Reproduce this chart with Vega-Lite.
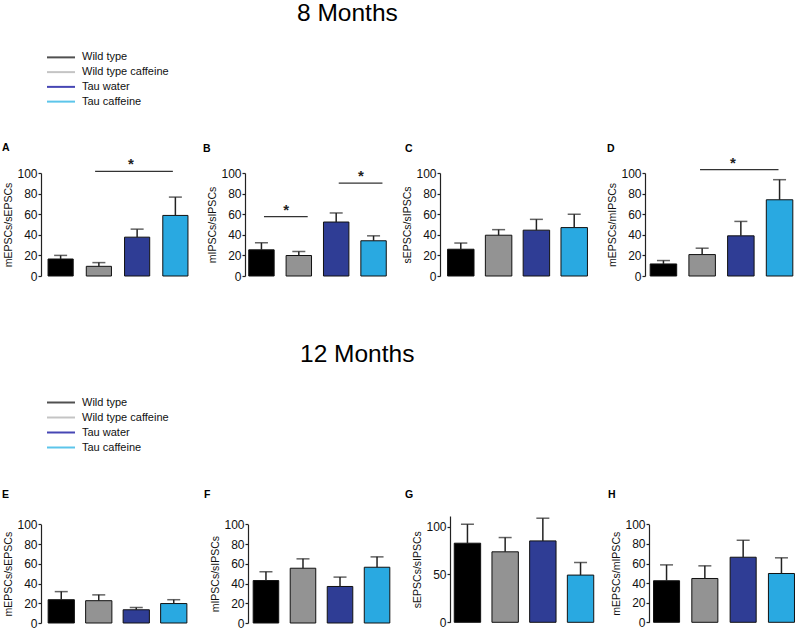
{
  "$schema": "https://vega.github.io/schema/vega-lite/v6.json",
  "padding": {"left": 2, "top": 0, "right": 0, "bottom": 0},
  "background": "white",
  "config": {
    "font": "Liberation Sans",
    "view": {"stroke": null},
    "axisY": {"domainColor": "#222", "domainWidth": 1.2, "tickColor": "#222", "tickWidth": 1.2, "tickSize": 3, "labelPadding": 1, "labelFontSize": 12, "labelColor": "#111", "titleFontSize": 10.5, "titleFontWeight": "normal", "titleColor": "#111", "titlePadding": 3, "grid": false, "labelFlush": false, "labelOverlap": false},
    "title": {"anchor": "start", "frame": "group", "fontSize": 10.5, "fontWeight": "bold", "color": "#000"}
  },
  "datasets": {
    "groups": [{"group": "Wild type"}, {"group": "Wild type caffeine"}, {"group": "Tau water"}, {"group": "Tau caffeine"}],
    "bars": [
      {"panel": "A", "group": "Wild type", "mean": 16.5, "upper": 20},
      {"panel": "A", "group": "Wild type caffeine", "mean": 9.4, "upper": 13},
      {"panel": "A", "group": "Tau water", "mean": 37.7, "upper": 45.5},
      {"panel": "A", "group": "Tau caffeine", "mean": 58.8, "upper": 76.6},
      {"panel": "B", "group": "Wild type", "mean": 25.4, "upper": 32.2},
      {"panel": "B", "group": "Wild type caffeine", "mean": 19.9, "upper": 23.8},
      {"panel": "B", "group": "Tau water", "mean": 52.4, "upper": 61.2},
      {"panel": "B", "group": "Tau caffeine", "mean": 34.2, "upper": 39},
      {"panel": "C", "group": "Wild type", "mean": 26, "upper": 32},
      {"panel": "C", "group": "Wild type caffeine", "mean": 39.6, "upper": 45},
      {"panel": "C", "group": "Tau water", "mean": 44.5, "upper": 55},
      {"panel": "C", "group": "Tau caffeine", "mean": 47, "upper": 60},
      {"panel": "D", "group": "Wild type", "mean": 11.7, "upper": 15},
      {"panel": "D", "group": "Wild type caffeine", "mean": 20.8, "upper": 27},
      {"panel": "D", "group": "Tau water", "mean": 39, "upper": 53},
      {"panel": "D", "group": "Tau caffeine", "mean": 74, "upper": 93.5},
      {"panel": "E", "group": "Wild type", "mean": 23.6, "upper": 31.8},
      {"panel": "E", "group": "Wild type caffeine", "mean": 22.6, "upper": 28.5},
      {"panel": "E", "group": "Tau water", "mean": 13.4, "upper": 15.7},
      {"panel": "E", "group": "Tau caffeine", "mean": 19.7, "upper": 23.6},
      {"panel": "F", "group": "Wild type", "mean": 43, "upper": 52},
      {"panel": "F", "group": "Wild type caffeine", "mean": 55.5, "upper": 65},
      {"panel": "F", "group": "Tau water", "mean": 37, "upper": 46.5},
      {"panel": "F", "group": "Tau caffeine", "mean": 56.5, "upper": 67},
      {"panel": "G", "group": "Wild type", "mean": 82.6, "upper": 102.4},
      {"panel": "G", "group": "Wild type caffeine", "mean": 73.6, "upper": 88.5},
      {"panel": "G", "group": "Tau water", "mean": 85, "upper": 108.7},
      {"panel": "G", "group": "Tau caffeine", "mean": 49.3, "upper": 62.5},
      {"panel": "H", "group": "Wild type", "mean": 42.4, "upper": 58.6},
      {"panel": "H", "group": "Wild type caffeine", "mean": 44.7, "upper": 57.6},
      {"panel": "H", "group": "Tau water", "mean": 66.4, "upper": 83.7},
      {"panel": "H", "group": "Tau caffeine", "mean": 49.8, "upper": 65.8}
    ],
    "sig": [
      {"panel": "A", "from": "Wild type caffeine", "to": "Tau caffeine", "mid": "Tau water", "y": 101.6, "label": "*"},
      {"panel": "B", "from": "Wild type", "to": "Wild type caffeine", "mid": "Wild type caffeine", "y": 57.7, "label": "*"},
      {"panel": "B", "from": "Tau water", "to": "Tau caffeine", "mid": "Tau caffeine", "y": 90.2, "label": "*"},
      {"panel": "D", "from": "Wild type caffeine", "to": "Tau caffeine", "mid": "Tau water", "y": 103.2, "label": "*"}
    ]
  },
  "spacing": 59,
  "vconcat": [
    {
      "title": {"text": "8 Months", "anchor": "start", "frame": "bounds", "dx": 295, "offset": 24, "fontSize": 24.5, "fontWeight": "normal"},
      "spacing": 34,
      "vconcat": [
        {
          "width": 150, "height": 59,
          "data": {"name": "groups"},
          "layer": [
            {"mark": {"type": "rule", "strokeWidth": 2},
             "encoding": {
               "x": {"datum": 0, "type": "quantitative", "scale": {"domain": [-0.214, 5.143]}, "axis": null},
               "x2": {"datum": 1},
               "y": {"field": "group", "type": "nominal", "scale": {"domain": ["Wild type", "Wild type caffeine", "Tau water", "Tau caffeine"]}, "axis": null},
               "stroke": {"field": "group", "type": "nominal", "scale": {"domain": ["Wild type", "Wild type caffeine", "Tau water", "Tau caffeine"], "range": ["#505050", "#c4c4c4", "#4646b4", "#5cc5ea"]}, "legend": null}}},
            {"mark": {"type": "text", "align": "left", "baseline": "middle", "fontSize": 11, "color": "#111"},
             "encoding": {
               "x": {"datum": 1.25, "type": "quantitative", "scale": {"domain": [-0.214, 5.143]}, "axis": null},
               "y": {"field": "group", "type": "nominal", "scale": {"domain": ["Wild type", "Wild type caffeine", "Tau water", "Tau caffeine"]}, "axis": null},
               "text": {"field": "group"}}}
          ]
        },
        {
          "bounds": "flush",
          "spacing": 50,
          "hconcat": [
            {
              "width": 154, "height": 103,
              "title": {"text": "A", "dx": -39, "offset": 3.5},
              "layer": [
                {"data": {"name": "bars"}, "transform": [{"filter": "datum.panel === 'A'"}],
                 "layer": [
                   {"mark": {"type": "bar", "stroke": "#111", "strokeWidth": 1},
                    "encoding": {
                      "x": {"field": "group", "type": "nominal", "scale": {"type": "band", "domain": ["Wild type", "Wild type caffeine", "Tau water", "Tau caffeine"], "paddingInner": 0.342, "paddingOuter": 0.184}, "axis": null},
                      "y": {"field": "mean", "type": "quantitative", "scale": {"domain": [0, 100], "nice": false}, "axis": {"title": "mEPSCs/sEPSCs", "values": [0, 20, 40, 60, 80, 100]}},
                      "fill": {"field": "group", "type": "nominal", "scale": {"domain": ["Wild type", "Wild type caffeine", "Tau water", "Tau caffeine"], "range": ["#000000", "#939393", "#2f3d95", "#29a9e1"]}, "legend": null}}},
                   {"mark": {"type": "rule", "color": "#222", "strokeWidth": 1.5},
                    "encoding": {
                      "x": {"field": "group", "type": "nominal", "scale": {"type": "band", "domain": ["Wild type", "Wild type caffeine", "Tau water", "Tau caffeine"], "paddingInner": 0.342, "paddingOuter": 0.184}, "axis": null},
                      "y": {"field": "mean", "type": "quantitative", "scale": {"domain": [0, 100], "nice": false}, "axis": {"title": "mEPSCs/sEPSCs", "values": [0, 20, 40, 60, 80, 100]}},
                      "y2": {"field": "upper"}}},
                   {"mark": {"type": "tick", "color": "#222", "thickness": 1.5, "size": 13},
                    "encoding": {
                      "x": {"field": "group", "type": "nominal", "scale": {"type": "band", "domain": ["Wild type", "Wild type caffeine", "Tau water", "Tau caffeine"], "paddingInner": 0.342, "paddingOuter": 0.184}, "axis": null},
                      "y": {"field": "upper", "type": "quantitative", "scale": {"domain": [0, 100], "nice": false}, "axis": {"title": "mEPSCs/sEPSCs", "values": [0, 20, 40, 60, 80, 100]}}}}
                 ]},
                {"data": {"name": "sig"}, "transform": [{"filter": "datum.panel === 'A'"}],
                 "layer": [
                   {"mark": {"type": "rule", "color": "#333", "strokeWidth": 1.3},
                    "encoding": {
                      "x": {"field": "from", "type": "nominal", "bandPosition": 0.35, "scale": {"type": "band", "domain": ["Wild type", "Wild type caffeine", "Tau water", "Tau caffeine"], "paddingInner": 0.342, "paddingOuter": 0.184}, "axis": null},
                      "x2": {"field": "to", "bandPosition": 0.4},
                      "y": {"field": "y", "type": "quantitative", "scale": {"domain": [0, 100], "nice": false}, "axis": {"title": "mEPSCs/sEPSCs", "values": [0, 20, 40, 60, 80, 100]}}}},
                   {"mark": {"type": "text", "fontSize": 15, "fontWeight": "bold", "baseline": "alphabetic", "align": "center", "color": "#222", "dy": -2},
                    "encoding": {
                      "x": {"field": "mid", "type": "nominal", "bandPosition": 0.25, "scale": {"type": "band", "domain": ["Wild type", "Wild type caffeine", "Tau water", "Tau caffeine"], "paddingInner": 0.342, "paddingOuter": 0.184}, "axis": null},
                      "y": {"field": "y", "type": "quantitative", "scale": {"domain": [0, 100], "nice": false}, "axis": {"title": "mEPSCs/sEPSCs", "values": [0, 20, 40, 60, 80, 100]}},
                      "text": {"field": "label"}}}
                 ]}
              ]
            },
            {
              "width": 145, "height": 103,
              "title": {"text": "B", "dx": -42, "offset": 13},
              "layer": [
                {"data": {"name": "bars"}, "transform": [{"filter": "datum.panel === 'B'"}],
                 "layer": [
                   {"mark": {"type": "bar", "stroke": "#111", "strokeWidth": 1},
                    "encoding": {
                      "x": {"field": "group", "type": "nominal", "scale": {"type": "band", "domain": ["Wild type", "Wild type caffeine", "Tau water", "Tau caffeine"], "paddingInner": 0.32, "paddingOuter": 0.1}, "axis": null},
                      "y": {"field": "mean", "type": "quantitative", "scale": {"domain": [0, 100], "nice": false}, "axis": {"title": "mIPSCs/sIPSCs", "values": [0, 20, 40, 60, 80, 100]}},
                      "fill": {"field": "group", "type": "nominal", "scale": {"domain": ["Wild type", "Wild type caffeine", "Tau water", "Tau caffeine"], "range": ["#000000", "#939393", "#2f3d95", "#29a9e1"]}, "legend": null}}},
                   {"mark": {"type": "rule", "color": "#222", "strokeWidth": 1.5},
                    "encoding": {
                      "x": {"field": "group", "type": "nominal", "scale": {"type": "band", "domain": ["Wild type", "Wild type caffeine", "Tau water", "Tau caffeine"], "paddingInner": 0.32, "paddingOuter": 0.1}, "axis": null},
                      "y": {"field": "mean", "type": "quantitative", "scale": {"domain": [0, 100], "nice": false}, "axis": {"title": "mIPSCs/sIPSCs", "values": [0, 20, 40, 60, 80, 100]}},
                      "y2": {"field": "upper"}}},
                   {"mark": {"type": "tick", "color": "#222", "thickness": 1.5, "size": 13},
                    "encoding": {
                      "x": {"field": "group", "type": "nominal", "scale": {"type": "band", "domain": ["Wild type", "Wild type caffeine", "Tau water", "Tau caffeine"], "paddingInner": 0.32, "paddingOuter": 0.1}, "axis": null},
                      "y": {"field": "upper", "type": "quantitative", "scale": {"domain": [0, 100], "nice": false}, "axis": {"title": "mIPSCs/sIPSCs", "values": [0, 20, 40, 60, 80, 100]}}}}
                 ]},
                {"data": {"name": "sig"}, "transform": [{"filter": "datum.panel === 'B'"}],
                 "layer": [
                   {"mark": {"type": "rule", "color": "#333", "strokeWidth": 1.3},
                    "encoding": {
                      "x": {"field": "from", "type": "nominal", "bandPosition": 0.6, "scale": {"type": "band", "domain": ["Wild type", "Wild type caffeine", "Tau water", "Tau caffeine"], "paddingInner": 0.32, "paddingOuter": 0.1}, "axis": null},
                      "x2": {"field": "to", "bandPosition": 0.85},
                      "y": {"field": "y", "type": "quantitative", "scale": {"domain": [0, 100], "nice": false}, "axis": {"title": "mIPSCs/sIPSCs", "values": [0, 20, 40, 60, 80, 100]}}}},
                   {"mark": {"type": "text", "fontSize": 15, "fontWeight": "bold", "baseline": "alphabetic", "align": "center", "color": "#222", "dy": -2},
                    "encoding": {
                      "x": {"field": "mid", "type": "nominal", "bandPosition": 0, "scale": {"type": "band", "domain": ["Wild type", "Wild type caffeine", "Tau water", "Tau caffeine"], "paddingInner": 0.32, "paddingOuter": 0.1}, "axis": null},
                      "y": {"field": "y", "type": "quantitative", "scale": {"domain": [0, 100], "nice": false}, "axis": {"title": "mIPSCs/sIPSCs", "values": [0, 20, 40, 60, 80, 100]}},
                      "text": {"field": "label"}}}
                 ]}
              ]
            },
            {
              "width": 155, "height": 103,
              "title": {"text": "C", "dx": -35, "offset": 13},
              "data": {"name": "bars"},
              "transform": [{"filter": "datum.panel === 'C'"}],
              "layer": [
                {"mark": {"type": "bar", "stroke": "#111", "strokeWidth": 1},
                 "encoding": {
                   "x": {"field": "group", "type": "nominal", "scale": {"type": "band", "domain": ["Wild type", "Wild type caffeine", "Tau water", "Tau caffeine"], "paddingInner": 0.3, "paddingOuter": 0.2}, "axis": null},
                   "y": {"field": "mean", "type": "quantitative", "scale": {"domain": [0, 100], "nice": false}, "axis": {"title": "sEPSCs/sIPSCs", "values": [0, 20, 40, 60, 80, 100]}},
                   "fill": {"field": "group", "type": "nominal", "scale": {"domain": ["Wild type", "Wild type caffeine", "Tau water", "Tau caffeine"], "range": ["#000000", "#939393", "#2f3d95", "#29a9e1"]}, "legend": null}}},
                {"mark": {"type": "rule", "color": "#222", "strokeWidth": 1.5},
                 "encoding": {
                   "x": {"field": "group", "type": "nominal", "scale": {"type": "band", "domain": ["Wild type", "Wild type caffeine", "Tau water", "Tau caffeine"], "paddingInner": 0.3, "paddingOuter": 0.2}, "axis": null},
                   "y": {"field": "mean", "type": "quantitative", "scale": {"domain": [0, 100], "nice": false}, "axis": {"title": "sEPSCs/sIPSCs", "values": [0, 20, 40, 60, 80, 100]}},
                   "y2": {"field": "upper"}}},
                {"mark": {"type": "tick", "color": "#222", "thickness": 1.5, "size": 13},
                 "encoding": {
                   "x": {"field": "group", "type": "nominal", "scale": {"type": "band", "domain": ["Wild type", "Wild type caffeine", "Tau water", "Tau caffeine"], "paddingInner": 0.3, "paddingOuter": 0.2}, "axis": null},
                   "y": {"field": "upper", "type": "quantitative", "scale": {"domain": [0, 100], "nice": false}, "axis": {"title": "sEPSCs/sIPSCs", "values": [0, 20, 40, 60, 80, 100]}}}}
              ]
            },
            {
              "width": 153, "height": 103,
              "title": {"text": "D", "dx": -38, "offset": 1.5},
              "layer": [
                {"data": {"name": "bars"}, "transform": [{"filter": "datum.panel === 'D'"}],
                 "layer": [
                   {"mark": {"type": "bar", "stroke": "#111", "strokeWidth": 1},
                    "encoding": {
                      "x": {"field": "group", "type": "nominal", "scale": {"type": "band", "domain": ["Wild type", "Wild type caffeine", "Tau water", "Tau caffeine"], "paddingInner": 0.315, "paddingOuter": 0.134}, "axis": null},
                      "y": {"field": "mean", "type": "quantitative", "scale": {"domain": [0, 100], "nice": false}, "axis": {"title": "mEPSCs/mIPSCs", "values": [0, 20, 40, 60, 80, 100]}},
                      "fill": {"field": "group", "type": "nominal", "scale": {"domain": ["Wild type", "Wild type caffeine", "Tau water", "Tau caffeine"], "range": ["#000000", "#939393", "#2f3d95", "#29a9e1"]}, "legend": null}}},
                   {"mark": {"type": "rule", "color": "#222", "strokeWidth": 1.5},
                    "encoding": {
                      "x": {"field": "group", "type": "nominal", "scale": {"type": "band", "domain": ["Wild type", "Wild type caffeine", "Tau water", "Tau caffeine"], "paddingInner": 0.315, "paddingOuter": 0.134}, "axis": null},
                      "y": {"field": "mean", "type": "quantitative", "scale": {"domain": [0, 100], "nice": false}, "axis": {"title": "mEPSCs/mIPSCs", "values": [0, 20, 40, 60, 80, 100]}},
                      "y2": {"field": "upper"}}},
                   {"mark": {"type": "tick", "color": "#222", "thickness": 1.5, "size": 13},
                    "encoding": {
                      "x": {"field": "group", "type": "nominal", "scale": {"type": "band", "domain": ["Wild type", "Wild type caffeine", "Tau water", "Tau caffeine"], "paddingInner": 0.315, "paddingOuter": 0.134}, "axis": null},
                      "y": {"field": "upper", "type": "quantitative", "scale": {"domain": [0, 100], "nice": false}, "axis": {"title": "mEPSCs/mIPSCs", "values": [0, 20, 40, 60, 80, 100]}}}}
                 ]},
                {"data": {"name": "sig"}, "transform": [{"filter": "datum.panel === 'D'"}],
                 "layer": [
                   {"mark": {"type": "rule", "color": "#333", "strokeWidth": 1.3},
                    "encoding": {
                      "x": {"field": "from", "type": "nominal", "bandPosition": 0.42, "scale": {"type": "band", "domain": ["Wild type", "Wild type caffeine", "Tau water", "Tau caffeine"], "paddingInner": 0.315, "paddingOuter": 0.134}, "axis": null},
                      "x2": {"field": "to", "bandPosition": 0.46},
                      "y": {"field": "y", "type": "quantitative", "scale": {"domain": [0, 100], "nice": false}, "axis": {"title": "mEPSCs/mIPSCs", "values": [0, 20, 40, 60, 80, 100]}}}},
                   {"mark": {"type": "text", "fontSize": 15, "fontWeight": "bold", "baseline": "alphabetic", "align": "center", "color": "#222", "dy": -2},
                    "encoding": {
                      "x": {"field": "mid", "type": "nominal", "bandPosition": 0.2, "scale": {"type": "band", "domain": ["Wild type", "Wild type caffeine", "Tau water", "Tau caffeine"], "paddingInner": 0.315, "paddingOuter": 0.134}, "axis": null},
                      "y": {"field": "y", "type": "quantitative", "scale": {"domain": [0, 100], "nice": false}, "axis": {"title": "mEPSCs/mIPSCs", "values": [0, 20, 40, 60, 80, 100]}},
                      "text": {"field": "label"}}}
                 ]}
              ]
            }
          ]
        }
      ]
    },
    {
      "title": {"text": "12 Months", "anchor": "start", "frame": "bounds", "dx": 298, "offset": 28, "fontSize": 24.5, "fontWeight": "normal"},
      "spacing": 34,
      "vconcat": [
        {
          "width": 150, "height": 60,
          "data": {"name": "groups"},
          "layer": [
            {"mark": {"type": "rule", "strokeWidth": 2},
             "encoding": {
               "x": {"datum": 0, "type": "quantitative", "scale": {"domain": [-0.214, 5.143]}, "axis": null},
               "x2": {"datum": 1},
               "y": {"field": "group", "type": "nominal", "scale": {"domain": ["Wild type", "Wild type caffeine", "Tau water", "Tau caffeine"]}, "axis": null},
               "stroke": {"field": "group", "type": "nominal", "scale": {"domain": ["Wild type", "Wild type caffeine", "Tau water", "Tau caffeine"], "range": ["#505050", "#c4c4c4", "#4646b4", "#5cc5ea"]}, "legend": null}}},
            {"mark": {"type": "text", "align": "left", "baseline": "middle", "fontSize": 11, "color": "#111"},
             "encoding": {
               "x": {"datum": 1.25, "type": "quantitative", "scale": {"domain": [-0.214, 5.143]}, "axis": null},
               "y": {"field": "group", "type": "nominal", "scale": {"domain": ["Wild type", "Wild type caffeine", "Tau water", "Tau caffeine"]}, "axis": null},
               "text": {"field": "group"}}}
          ]
        },
        {
          "spacing": 10,
          "hconcat": [
            {
              "width": 153, "height": 108,
              "title": {"text": "E", "dx": -39, "offset": 16},
              "data": {"name": "bars"},
              "transform": [{"filter": "datum.panel === 'E'"}],
              "layer": [
                {"mark": {"type": "bar", "stroke": "#111", "strokeWidth": 1},
                 "encoding": {
                   "x": {"field": "group", "type": "nominal", "scale": {"type": "band", "domain": ["Wild type", "Wild type caffeine", "Tau water", "Tau caffeine"], "paddingInner": 0.3, "paddingOuter": 0.19}, "axis": null},
                   "y": {"field": "mean", "type": "quantitative", "scale": {"domain": [0, 100], "nice": false, "range": [107, 8.3]}, "axis": {"title": "mEPSCs/sEPSCs", "values": [0, 20, 40, 60, 80, 100]}},
                   "fill": {"field": "group", "type": "nominal", "scale": {"domain": ["Wild type", "Wild type caffeine", "Tau water", "Tau caffeine"], "range": ["#000000", "#939393", "#2f3d95", "#29a9e1"]}, "legend": null}}},
                {"mark": {"type": "rule", "color": "#222", "strokeWidth": 1.5},
                 "encoding": {
                   "x": {"field": "group", "type": "nominal", "scale": {"type": "band", "domain": ["Wild type", "Wild type caffeine", "Tau water", "Tau caffeine"], "paddingInner": 0.3, "paddingOuter": 0.19}, "axis": null},
                   "y": {"field": "mean", "type": "quantitative", "scale": {"domain": [0, 100], "nice": false, "range": [107, 8.3]}, "axis": {"title": "mEPSCs/sEPSCs", "values": [0, 20, 40, 60, 80, 100]}},
                   "y2": {"field": "upper"}}},
                {"mark": {"type": "tick", "color": "#222", "thickness": 1.5, "size": 13},
                 "encoding": {
                   "x": {"field": "group", "type": "nominal", "scale": {"type": "band", "domain": ["Wild type", "Wild type caffeine", "Tau water", "Tau caffeine"], "paddingInner": 0.3, "paddingOuter": 0.19}, "axis": null},
                   "y": {"field": "upper", "type": "quantitative", "scale": {"domain": [0, 100], "nice": false, "range": [107, 8.3]}, "axis": {"title": "mEPSCs/sEPSCs", "values": [0, 20, 40, 60, 80, 100]}}}}
              ]
            },
            {
              "width": 147, "height": 108,
              "title": {"text": "F", "dx": -44, "offset": 16},
              "data": {"name": "bars"},
              "transform": [{"filter": "datum.panel === 'F'"}],
              "layer": [
                {"mark": {"type": "bar", "stroke": "#111", "strokeWidth": 1},
                 "encoding": {
                   "x": {"field": "group", "type": "nominal", "scale": {"type": "band", "domain": ["Wild type", "Wild type caffeine", "Tau water", "Tau caffeine"], "paddingInner": 0.31, "paddingOuter": 0.14}, "axis": null},
                   "y": {"field": "mean", "type": "quantitative", "scale": {"domain": [0, 100], "nice": false, "range": [107, 8.3]}, "axis": {"title": "mIPSCs/sIPSCs", "values": [0, 20, 40, 60, 80, 100]}},
                   "fill": {"field": "group", "type": "nominal", "scale": {"domain": ["Wild type", "Wild type caffeine", "Tau water", "Tau caffeine"], "range": ["#000000", "#939393", "#2f3d95", "#29a9e1"]}, "legend": null}}},
                {"mark": {"type": "rule", "color": "#222", "strokeWidth": 1.5},
                 "encoding": {
                   "x": {"field": "group", "type": "nominal", "scale": {"type": "band", "domain": ["Wild type", "Wild type caffeine", "Tau water", "Tau caffeine"], "paddingInner": 0.31, "paddingOuter": 0.14}, "axis": null},
                   "y": {"field": "mean", "type": "quantitative", "scale": {"domain": [0, 100], "nice": false, "range": [107, 8.3]}, "axis": {"title": "mIPSCs/sIPSCs", "values": [0, 20, 40, 60, 80, 100]}},
                   "y2": {"field": "upper"}}},
                {"mark": {"type": "tick", "color": "#222", "thickness": 1.5, "size": 13},
                 "encoding": {
                   "x": {"field": "group", "type": "nominal", "scale": {"type": "band", "domain": ["Wild type", "Wild type caffeine", "Tau water", "Tau caffeine"], "paddingInner": 0.31, "paddingOuter": 0.14}, "axis": null},
                   "y": {"field": "upper", "type": "quantitative", "scale": {"domain": [0, 100], "nice": false, "range": [107, 8.3]}, "axis": {"title": "mIPSCs/sIPSCs", "values": [0, 20, 40, 60, 80, 100]}}}}
              ]
            },
            {
              "width": 148, "height": 108,
              "title": {"text": "G", "dx": -45, "offset": 16},
              "data": {"name": "bars"},
              "transform": [{"filter": "datum.panel === 'G'"}],
              "layer": [
                {"mark": {"type": "bar", "stroke": "#111", "strokeWidth": 1},
                 "encoding": {
                   "x": {"field": "group", "type": "nominal", "scale": {"type": "band", "domain": ["Wild type", "Wild type caffeine", "Tau water", "Tau caffeine"], "paddingInner": 0.3, "paddingOuter": 0.113}, "axis": null},
                   "y": {"field": "mean", "type": "quantitative", "scale": {"domain": [0, 111], "nice": false, "range": [106.3, 0]}, "axis": {"title": "sEPSCs/sIPSCs", "values": [0, 50, 100]}},
                   "fill": {"field": "group", "type": "nominal", "scale": {"domain": ["Wild type", "Wild type caffeine", "Tau water", "Tau caffeine"], "range": ["#000000", "#939393", "#2f3d95", "#29a9e1"]}, "legend": null}}},
                {"mark": {"type": "rule", "color": "#222", "strokeWidth": 1.5},
                 "encoding": {
                   "x": {"field": "group", "type": "nominal", "scale": {"type": "band", "domain": ["Wild type", "Wild type caffeine", "Tau water", "Tau caffeine"], "paddingInner": 0.3, "paddingOuter": 0.113}, "axis": null},
                   "y": {"field": "mean", "type": "quantitative", "scale": {"domain": [0, 111], "nice": false, "range": [106.3, 0]}, "axis": {"title": "sEPSCs/sIPSCs", "values": [0, 50, 100]}},
                   "y2": {"field": "upper"}}},
                {"mark": {"type": "tick", "color": "#222", "thickness": 1.5, "size": 13},
                 "encoding": {
                   "x": {"field": "group", "type": "nominal", "scale": {"type": "band", "domain": ["Wild type", "Wild type caffeine", "Tau water", "Tau caffeine"], "paddingInner": 0.3, "paddingOuter": 0.113}, "axis": null},
                   "y": {"field": "upper", "type": "quantitative", "scale": {"domain": [0, 111], "nice": false, "range": [106.3, 0]}, "axis": {"title": "sEPSCs/sIPSCs", "values": [0, 50, 100]}}}}
              ]
            },
            {
              "width": 150, "height": 108,
              "title": {"text": "H", "dx": -41, "offset": 16},
              "data": {"name": "bars"},
              "transform": [{"filter": "datum.panel === 'H'"}],
              "layer": [
                {"mark": {"type": "bar", "stroke": "#111", "strokeWidth": 1},
                 "encoding": {
                   "x": {"field": "group", "type": "nominal", "scale": {"type": "band", "domain": ["Wild type", "Wild type caffeine", "Tau water", "Tau caffeine"], "paddingInner": 0.32, "paddingOuter": 0.118}, "axis": null},
                   "y": {"field": "mean", "type": "quantitative", "scale": {"domain": [0, 100], "nice": false, "range": [106.3, 8.3]}, "axis": {"title": "mEPSCs/mIPSCs", "values": [0, 20, 40, 60, 80, 100]}},
                   "fill": {"field": "group", "type": "nominal", "scale": {"domain": ["Wild type", "Wild type caffeine", "Tau water", "Tau caffeine"], "range": ["#000000", "#939393", "#2f3d95", "#29a9e1"]}, "legend": null}}},
                {"mark": {"type": "rule", "color": "#222", "strokeWidth": 1.5},
                 "encoding": {
                   "x": {"field": "group", "type": "nominal", "scale": {"type": "band", "domain": ["Wild type", "Wild type caffeine", "Tau water", "Tau caffeine"], "paddingInner": 0.32, "paddingOuter": 0.118}, "axis": null},
                   "y": {"field": "mean", "type": "quantitative", "scale": {"domain": [0, 100], "nice": false, "range": [106.3, 8.3]}, "axis": {"title": "mEPSCs/mIPSCs", "values": [0, 20, 40, 60, 80, 100]}},
                   "y2": {"field": "upper"}}},
                {"mark": {"type": "tick", "color": "#222", "thickness": 1.5, "size": 13},
                 "encoding": {
                   "x": {"field": "group", "type": "nominal", "scale": {"type": "band", "domain": ["Wild type", "Wild type caffeine", "Tau water", "Tau caffeine"], "paddingInner": 0.32, "paddingOuter": 0.118}, "axis": null},
                   "y": {"field": "upper", "type": "quantitative", "scale": {"domain": [0, 100], "nice": false, "range": [106.3, 8.3]}, "axis": {"title": "mEPSCs/mIPSCs", "values": [0, 20, 40, 60, 80, 100]}}}}
              ]
            }
          ]
        }
      ]
    }
  ]
}
